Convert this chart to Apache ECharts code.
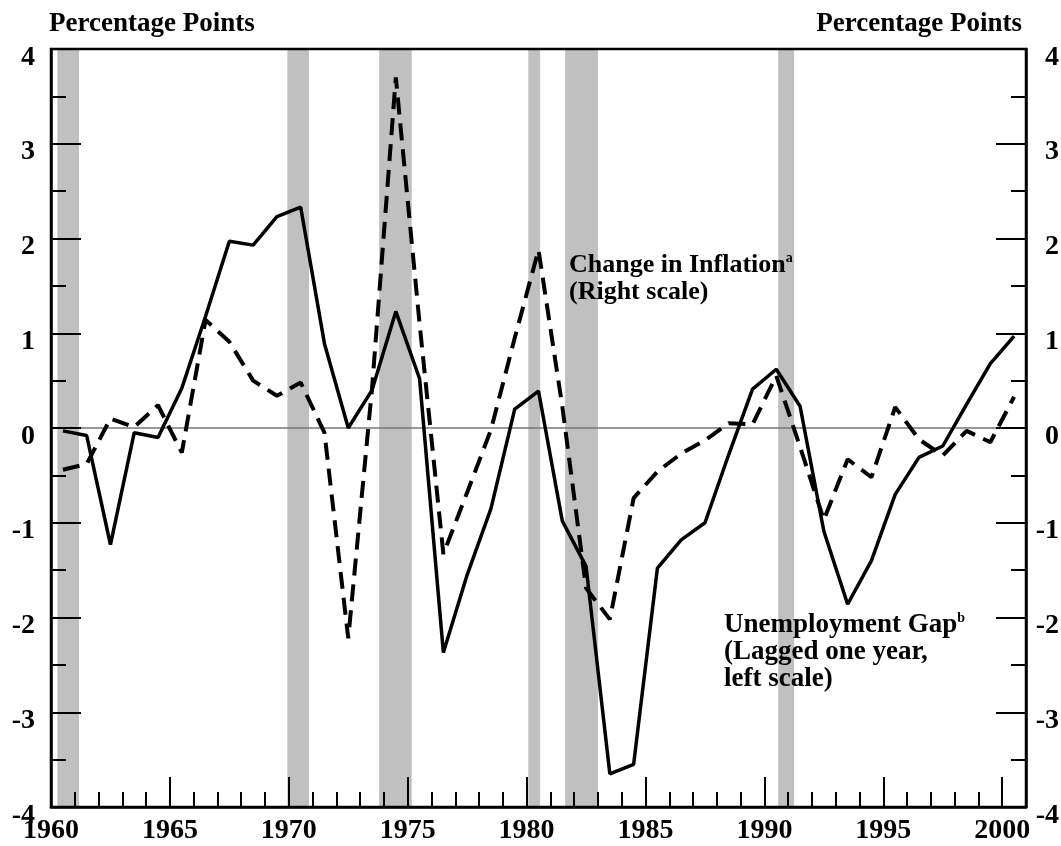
<!DOCTYPE html>
<html>
<head>
<meta charset="utf-8">
<script src="https://cdn.jsdelivr.net/npm/echarts@6/dist/echarts.min.js"></script>
<style>
  html, body { margin: 0; padding: 0; background: #fff; }
  #chart { width: 1061px; height: 846px; }
</style>
</head>
<body>
<div id="chart"></div>
<script>
// annual values, plotted at mid-year
var years = [1960, 1961, 1962, 1963, 1964, 1965, 1966, 1967, 1968, 1969,
             1970, 1971, 1972, 1973, 1974, 1975, 1976, 1977, 1978, 1979,
             1980, 1981, 1982, 1983, 1984, 1985, 1986, 1987, 1988, 1989,
             1990, 1991, 1992, 1993, 1994, 1995, 1996, 1997, 1998, 1999, 2000];

// unemployment gap, lagged one year (left scale)
var unemploymentGap = [-0.03, -0.08, -1.23, -0.05, -0.10, 0.42, 1.18, 1.97, 1.93, 2.23,
                       2.33, 0.89, 0.00, 0.40, 1.23, 0.52, -2.37, -1.55, -0.85, 0.20,
                       0.39, -0.98, -1.46, -3.65, -3.55, -1.48, -1.18, -1.00, -0.28, 0.41,
                       0.62, 0.23, -1.09, -1.86, -1.40, -0.70, -0.31, -0.19, 0.25, 0.68, 0.97];

// change in inflation (right scale)
var inflationChange = [-0.44, -0.38, 0.10, 0.01, 0.24, -0.26, 1.14, 0.91, 0.50, 0.34,
                       0.48, -0.05, -2.22, 0.42, 3.70, 1.10, -1.33, -0.68, -0.02, 0.95,
                       1.88, 0.23, -1.69, -2.02, -0.74, -0.46, -0.27, -0.13, 0.05, 0.04,
                       0.55, -0.20, -0.97, -0.33, -0.52, 0.22, -0.12, -0.29, -0.03, -0.15, 0.33];

// recessions (shaded)
var recessionStart = [1960.27, 1969.94, 1973.80, 1980.07, 1981.62, 1990.58];
var recessionEnd   = [1961.18, 1970.85, 1975.17, 1980.57, 1983.00, 1991.25];

var serif = '"Liberation Serif", "Times New Roman", serif';

function pairs(vals) {
  return vals.map(function (v, i) { return [years[i] + 0.5, v]; });
}

var bands = recessionStart.map(function (s, i) {
  return [{ xAxis: s }, { xAxis: recessionEnd[i] }];
});

var labelStyle = { color: '#000', fontFamily: serif, fontWeight: 'bold', fontSize: 28 };

function yAxis(pos, margin, align) {
  return {
    type: 'value', min: -4, max: 4, interval: 1, position: pos, z: 10,
    axisLine: { show: true, onZero: false, lineStyle: { color: '#000', width: 2.5 } },
    axisTick: { show: true, inside: true, length: 30, lineStyle: { color: '#000', width: 2 } },
    minorTick: { show: true, splitNumber: 2, length: 15, lineStyle: { color: '#000', width: 2 } },
    axisLabel: {
      margin: margin, align: align,
      formatter: function (v) { return '{v|' + v + '}'; },
      rich: { v: Object.assign({ padding: [17, 0, 0, 0] }, labelStyle) }
    },
    splitLine: { show: false }
  };
}

var chart = echarts.init(document.getElementById('chart'));
chart.setOption({
  animation: false,
  backgroundColor: '#fff',
  grid: {
    left: 51, right: 35, top: 49, bottom: 39,
    show: true, borderColor: '#000', borderWidth: 2.5, backgroundColor: 'transparent',
    z: 10, containLabel: false, outerBoundsMode: 'none'
  },
  xAxis: [{
    type: 'value', min: 1960, max: 2001, interval: 5, position: 'bottom', z: 10,
    axisLine: { onZero: false, lineStyle: { color: '#000', width: 2.5 } },
    axisTick: { inside: true, length: 30, lineStyle: { color: '#000', width: 2 } },
    axisLabel: Object.assign({
      margin: 10, showMaxLabel: false, showMinLabel: true,
      formatter: function (v) { return v % 5 === 0 ? String(v) : ''; }
    }, labelStyle),
    splitLine: { show: false }
  }, {
    type: 'value', min: 1960, max: 2001, interval: 1, position: 'bottom', z: 10,
    axisLine: { show: false, onZero: false },
    axisTick: { inside: true, length: 15, lineStyle: { color: '#000', width: 2 } },
    axisLabel: { show: false },
    splitLine: { show: false }
  }],
  yAxis: [yAxis('left', 16, 'right'), yAxis('right', 33, 'right')],
  series: [{
    type: 'line', data: pairs(unemploymentGap), yAxisIndex: 0, z: 1, silent: true,
    symbol: 'none', lineStyle: { opacity: 0 },
    markArea: { silent: true, z: 1, itemStyle: { color: '#c0c0c0', opacity: 1 }, data: bands },
    markLine: {
      silent: true, z: 2, symbol: 'none', label: { show: false },
      lineStyle: { color: '#777', width: 1.5, type: 'solid' },
      data: [{ yAxis: 0 }]
    }
  }, {
    name: 'Change in Inflation', type: 'line', yAxisIndex: 1, z: 3,
    data: pairs(inflationChange), symbol: 'none',
    lineStyle: { color: '#000', width: 4, type: [17, 9] }
  }, {
    name: 'Unemployment Gap', type: 'line', yAxisIndex: 0, z: 4,
    data: pairs(unemploymentGap), symbol: 'none',
    lineStyle: { color: '#000', width: 3.5 }
  }],
  graphic: [
    { type: 'text', x: 49, y: 24, z: 20, style: { text: 'Percentage Points', font: 'bold 27px ' + serif, fill: '#000', align: 'left', verticalAlign: 'middle' } },
    { type: 'text', x: 1022, y: 24, z: 20, style: { text: 'Percentage Points', font: 'bold 27px ' + serif, fill: '#000', align: 'right', verticalAlign: 'middle' } },
    { type: 'text', x: 569, y: 265, z: 20, style: {
      text: '{m|Change in Inflation}{s|a}', align: 'left', verticalAlign: 'middle',
      rich: { m: { font: 'bold 26px ' + serif, fill: '#000', color: '#000', lineHeight: 27 },
              s: { font: 'bold 14px ' + serif, fill: '#000', color: '#000', verticalAlign: 'top', lineHeight: 14 } } } },
    { type: 'text', x: 569, y: 292, z: 20, style: { text: '(Right scale)', font: 'bold 26px ' + serif, fill: '#000', align: 'left', verticalAlign: 'middle' } },
    { type: 'text', x: 724, y: 625, z: 20, style: {
      text: '{m|Unemployment Gap}{s|b}', align: 'left', verticalAlign: 'middle',
      rich: { m: { font: 'bold 27px ' + serif, fill: '#000', color: '#000', lineHeight: 27 },
              s: { font: 'bold 14px ' + serif, fill: '#000', color: '#000', verticalAlign: 'top', lineHeight: 14 } } } },
    { type: 'text', x: 724, y: 652, z: 20, style: { text: '(Lagged one year,', font: 'bold 27px ' + serif, fill: '#000', align: 'left', verticalAlign: 'middle' } },
    { type: 'text', x: 724, y: 679, z: 20, style: { text: 'left scale)', font: 'bold 27px ' + serif, fill: '#000', align: 'left', verticalAlign: 'middle' } }
  ]
});
</script>
</body>
</html>
